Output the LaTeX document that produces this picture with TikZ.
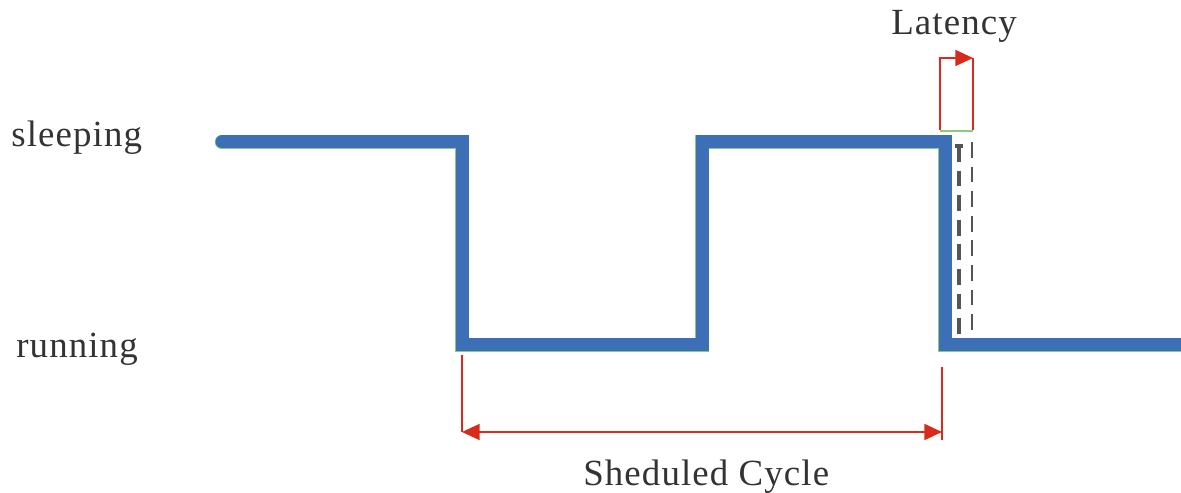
\documentclass[tikz,border=0pt]{standalone}
\usepackage{fontspec}
\setmainfont{Liberation Serif}
\usetikzlibrary{arrows.meta}
\definecolor{waveblue}{HTML}{3D6FB6}
\definecolor{wavegreen}{HTML}{8ACB7E}
\definecolor{markred}{HTML}{D92A1C}
\definecolor{ghost}{HTML}{555555}
\tikzset{
  lbl/.style={anchor=base west, inner sep=0pt, font=\fontsize{21}{25}\selectfont\addfontfeature{LetterSpace=3}, text=black!80},
  halo/.style={line width=8.2pt, draw=wavegreen, line join=miter, line cap=round},
  wave/.style={line width=7.4pt, draw=waveblue, line join=miter, line cap=round},
  marker/.style={line width=1.2pt, draw=markred},
  tip/.style={-{Triangle[length=10pt,width=9pt]}},
  ghostline/.style={dashed, dash pattern=on 9pt off 5pt, draw=ghost}
}
\begin{document}
\begin{tikzpicture}[x=0.02cm, y=-0.02cm]
\useasboundingbox (0,0) rectangle (1181,493);

% state labels
\node[lbl] (sleep) at (11,147) {sleeping};
\node[lbl] (run) at (16,358) {running};
\node[lbl] (lat) at (891,35) {Latency};
\node[lbl] (cyc) at (583,485) {Sheduled Cycle};

% waveform corners
\coordinate (w0) at (222,142);
\coordinate (w1) at (462,142);
\coordinate (w2) at (462,345);
\coordinate (w3) at (702,345);
\coordinate (w4) at (702,142);
\coordinate (w5) at (945,142);
\coordinate (w6) at (945,345);
\coordinate (w7) at (1190,345);

\draw[halo] (w0) -- (w1) -- (w2) -- (w3) -- (w4) -- (w5) -- (w6) -- (w7);
\draw[line width=0.6pt, draw=wavegreen] (940,131) -- (973,131);

% delayed edge (dashed)
\draw[ghostline, line width=1.8pt] (955,146) -- (963,146);
\draw[ghostline, line width=1.8pt] (959,146) -- (959,340);
\draw[ghostline, line width=1.1pt] (972,142) -- (972,340);

\draw[wave] (w0) -- (w1) -- (w2) -- (w3) -- (w4) -- (w5) -- (w6) -- (w7);

% latency marker
\coordinate (l0) at (940,130);
\coordinate (l1) at (940,58);
\coordinate (l2) at (973,58);
\coordinate (l3) at (973,130);
\draw[marker, tip] (l0) -- (l1) -- (l2);
\draw[marker] (l2) -- (l3);

% scheduled cycle marker
\coordinate (c0) at (462,355);
\coordinate (c1) at (462,432);
\coordinate (c2) at (942,367);
\coordinate (c3) at (942,440);
\coordinate (c4) at (942,432);
\draw[marker] (c0) -- (c1);
\draw[marker] (c2) -- (c3);
\draw[marker, {Triangle[length=10pt,width=9pt]}-{Triangle[length=10pt,width=9pt]}] (c1) -- (c4);
\end{tikzpicture}
\end{document}
